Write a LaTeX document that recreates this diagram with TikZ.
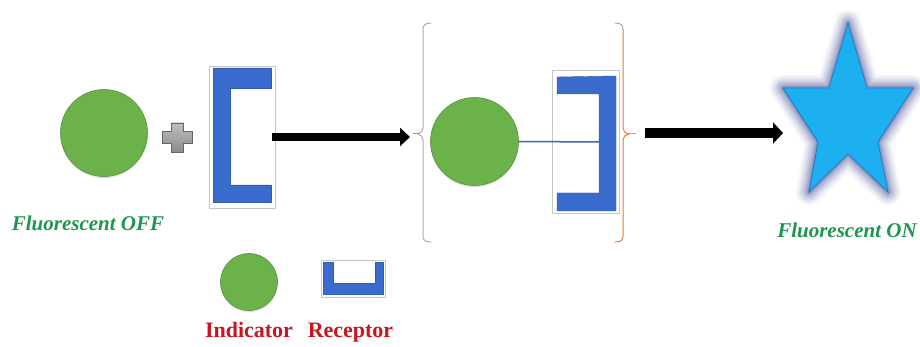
\documentclass[tikz,border=0pt]{standalone}
\usepackage{fontspec}
\setmainfont{Liberation Serif}
\usetikzlibrary{arrows.meta,shadows}

\definecolor{dotgreen}{RGB}{108,178,74}
\definecolor{dotedge}{RGB}{86,146,58}
\definecolor{recblue}{RGB}{58,108,206}
\definecolor{labgreen}{RGB}{28,150,78}
\definecolor{labred}{RGB}{204,20,30}
\definecolor{bracegray}{RGB}{178,168,162}
\definecolor{braceorange}{RGB}{226,122,62}
\definecolor{starblue}{RGB}{28,176,240}
\definecolor{staredge}{RGB}{40,120,190}
\definecolor{glowc}{RGB}{88,98,165}
\definecolor{plusgray}{RGB}{165,165,165}
\definecolor{linkblue}{RGB}{60,100,190}

\tikzset{
  dot/.style={circle, inner sep=0pt, fill=dotgreen, draw=dotedge, line width=0.6pt,
    drop shadow={shadow xshift=0pt, shadow yshift=-1.5pt, opacity=0.25}},
  frame/.style={rectangle, inner sep=0pt, draw=black!22, fill=white, line width=0.7pt},
  bluebar/.style={fill=recblue, draw=recblue!85!black, line width=0.4pt},
  fatarrowA/.style={line width=8pt, -{Triangle[length=10pt,width=18pt]}},
  fatarrowB/.style={line width=10pt, -{Triangle[length=10pt,width=21pt]}},
  statelabel/.style={font=\fontsize{21}{24}\selectfont\bfseries\itshape, text=labgreen,
    inner sep=0pt, anchor=base},
  keylabel/.style={font=\fontsize{22}{25}\selectfont\bfseries, text=labred,
    inner sep=0pt, anchor=base},
  bracepen/.style={line width=1pt, line cap=round},
}

\begin{document}
\begin{tikzpicture}[x=1pt,y=-1pt]
\useasboundingbox (0,0) rectangle (920,347);

% ---------- left side: free indicator + receptor ----------
\node[dot, minimum size=87pt] (ind1) at (104,133) {};

% plus sign
\filldraw[top color=black!25, bottom color=black!45, draw=black!60, line width=0.7pt, line join=round]
  (171.5,123) -- (183.5,123) -- (183.5,131.5) -- (192.5,131.5) -- (192.5,143.5)
  -- (183.5,143.5) -- (183.5,152) -- (171.5,152) -- (171.5,143.5) -- (162.5,143.5)
  -- (162.5,131.5) -- (171.5,131.5) -- cycle;

\node[frame, minimum width=66pt, minimum height=142pt] (rec1) at (242,137) {};
\path[bluebar] (213,68) -- (271,68) -- (271,88) -- (230,88) -- (230,185)
  -- (271,185) -- (271,202) -- (213,202) -- cycle;

\node[statelabel] (offlab) at (88,231) {Fluorescent OFF};

% ---------- complex in brackets ----------
\coordinate (a1end) at (410,137);
\draw[fatarrowA] ([xshift=-3pt]rec1.east) -- (a1end);

\draw[bracepen, bracegray] (431,23) .. controls (425,23) and (423,25) .. (423,30)
  -- (423,128) .. controls (423,131) and (421,133) .. (418,134)
  .. controls (421,135) and (423,137) .. (423,140)
  -- (423,236) .. controls (423,240) and (425,242) .. (431,242);
\coordinate (brL) at (413,134);
\draw[line width=1pt, braceorange] (brL) -- (419,134);

\draw[bracepen, bracegray] (615,23) .. controls (621,23) and (623,25) .. (623,30);
\draw[bracepen, braceorange] (623,30)
  -- (623,128) .. controls (623,131) and (625,133) .. (629,134)
  .. controls (625,135) and (623,137) .. (623,140)
  -- (623,236) .. controls (623,240) and (621,242) .. (615,242);
\coordinate (brR) at (636,134);
\draw[line width=1pt, bracegray] (628,134) -- (brR);

\node[dot, minimum size=88pt] (ind2) at (474.5,141.5) {};
\node[frame, minimum width=67pt, minimum height=143pt] (rec2) at (585.5,141.5) {};
\path[bluebar] (557,77) -- (616,76) -- (616,211) -- (557,211) -- (557,193)
  -- (599,193) -- (599,94) -- (557,94) -- cycle;
\coordinate (bind) at (600,142);
\draw[linkblue, line width=1.5pt] (ind2.east) -- (bind);

% ---------- fluorescent product ----------
\coordinate (a2start) at (645,133);
\coordinate (a2end) at (783,133);
\draw[fatarrowB] (a2start) -- (a2end);

\coordinate (s1) at (848,23);
\coordinate (s2) at (867,88);
\coordinate (s3) at (913,88);
\coordinate (s4) at (878,142);
\coordinate (s5) at (888,192);
\coordinate (s6) at (848,154);
\coordinate (s7) at (809,192);
\coordinate (s8) at (818,142);
\coordinate (s9) at (783,88);
\coordinate (s10) at (829,88);

% soft halo round the star
\foreach \w/\o in {26/0.06, 22/0.08, 18/0.10, 14/0.13, 10/0.17, 6/0.22, 3/0.3}
  \draw[glowc, line width=\w pt, opacity=\o, line join=round]
    (s1) -- (s2) -- (s3) -- (s4) -- (s5) -- (s6) -- (s7) -- (s8) -- (s9) -- (s10) -- cycle;
\filldraw[fill=starblue, draw=staredge, line width=0.8pt, line join=miter]
  (s1) -- (s2) -- (s3) -- (s4) -- (s5) -- (s6) -- (s7) -- (s8) -- (s9) -- (s10) -- cycle;

\node[statelabel] (onlab) at (847,237) {Fluorescent ON};

% ---------- key ----------
\node[dot, minimum size=57pt] (indkey) at (249,282) {};
\node[frame, minimum width=64pt, minimum height=37pt] (reckey) at (353,278.5) {};
\path[bluebar] (323,262) -- (333,262) -- (333,283) -- (375,283) -- (375,262)
  -- (383,262) -- (383,294) -- (323,294) -- cycle;

\node[keylabel] (indlab) at (249,337) {Indicator};
\node[keylabel] (reclab) at (350.5,337) {Receptor};
\end{tikzpicture}
\end{document}
